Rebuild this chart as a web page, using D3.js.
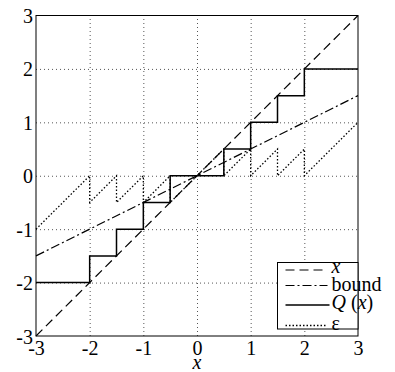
<!DOCTYPE html>
<html>
<head>
<meta charset="utf-8">
<script src="https://cdn.jsdelivr.net/npm/d3@7"></script>
<style>
  body { margin: 0; background: #fff; }
  svg { display: block; font-family: "Liberation Serif", "Times New Roman", serif; }
  .tick text { font-size: 20px; fill: #000; font-family: "Liberation Serif", "Times New Roman", serif; }
  .grid line { stroke: #555; stroke-dasharray: 1,3; }
  .grid .domain { display: none; }
</style>
</head>
<body>
<div id="chart"></div>
<script>
// tick values
const xTicks = [-3, -2, -1, 0, 1, 2, 3];
const yTicks = [-3, -2, -1, 0, 1, 2, 3];

// series: x (identity), bound, quantizer output Q(x), error eps
const lineX = [-3, 3];
const lineY = [-3, 3];
const boundX = [-3, 3];
const boundY = [-1.5, 1.5];
const qX = [-3, -2, -2, -1.5, -1.5, -1, -1, -0.5, -0.5, 0.5, 0.5, 1, 1, 1.5, 1.5, 2, 2, 3];
const qY = [-2, -2, -1.5, -1.5, -1, -1, -0.5, -0.5, 0, 0, 0.5, 0.5, 1, 1, 1.5, 1.5, 2, 2];
const epsX = [-3, -2, -2, -1.5, -1.5, -1, -1, -0.5, -0.5, 0.5, 0.5, 1, 1, 1.5, 1.5, 2, 2, 3];
const epsY = [-1, 0, -0.5, 0, -0.5, 0, -0.5, 0, -0.5, 0.5, 0, 0.5, 0, 0.5, 0, 0.5, 0, 1];

const legendLabels = ['x', 'bound', 'Q (x)', 'ε'];

const W = 395, H = 372;
const margin = { top: 15.5, right: 37, bottom: 36, left: 36 };
const width = W - margin.left - margin.right;
const height = H - margin.top - margin.bottom;

const svg = d3.select('#chart').append('svg')
  .attr('width', W)
  .attr('height', H);

const g = svg.append('g')
  .attr('transform', `translate(${margin.left}, ${margin.top})`);

const x = d3.scaleLinear().domain([-3, 3]).range([0, width]);
const y = d3.scaleLinear().domain([-3, 3]).range([height, 0]);

// dotted grid
g.append('g')
  .attr('class', 'grid')
  .attr('transform', `translate(0, ${height})`)
  .call(d3.axisBottom(x).tickValues(xTicks.slice(1, -1)).tickSize(-height).tickFormat(''));
g.append('g')
  .attr('class', 'grid')
  .call(d3.axisLeft(y).tickValues(yTicks.slice(1, -1)).tickSize(-width).tickFormat(''));

// tick labels
const fmt = d => d < 0 ? '-' + (-d) : d;
const xAxis = g.append('g')
  .attr('transform', `translate(0, ${height})`)
  .attr('font-family', null)
  .call(d3.axisBottom(x).tickValues(xTicks).tickSize(0).tickPadding(5).tickFormat(fmt));
xAxis.select('.domain').remove();
xAxis.selectAll('text').attr('dy', '0.71em');

const yAxis = g.append('g')
  .call(d3.axisLeft(y).tickValues(yTicks).tickSize(0).tickPadding(3).tickFormat(fmt));
yAxis.select('.domain').remove();
yAxis.selectAll('text').attr('dy', '0.35em');

// series
const series = [
  { xs: lineX, ys: lineY, dash: '9,5', w: 1.2 },
  { xs: boundX, ys: boundY, dash: '9,3,2,3', w: 1.2 },
  { xs: qX, ys: qY, dash: null, w: 1.5 },
  { xs: epsX, ys: epsY, dash: '1.5,2', w: 1.3 }
];

const line = d3.line().x(d => x(d[0])).y(d => y(d[1]));

series.forEach(s => {
  g.append('path')
    .datum(s.xs.map((v, i) => [v, s.ys[i]]))
    .attr('d', line)
    .attr('fill', 'none')
    .attr('stroke', '#000')
    .attr('stroke-width', s.w)
    .attr('stroke-dasharray', s.dash);
});

// axes box
g.append('rect')
  .attr('width', width)
  .attr('height', height)
  .attr('fill', 'none')
  .attr('stroke', '#000')
  .attr('stroke-width', 1);

// x label
g.append('text')
  .attr('x', x(0))
  .attr('y', height + 33)
  .attr('text-anchor', 'middle')
  .style('font-size', '20px')
  .style('font-style', 'italic')
  .text('x');

// legend
const leg = svg.append('g').attr('transform', 'translate(277.5, 262.5)');
leg.append('rect')
  .attr('width', 80.5)
  .attr('height', 66.5)
  .attr('fill', '#fff')
  .attr('stroke', '#000')
  .attr('stroke-width', 1);

const rowLine = [7.5, 23, 42.5, 63];
const rowText = [10.5, 28.5, 46.5, 67];
series.forEach((s, i) => {
  leg.append('line')
    .attr('x1', 8).attr('x2', i === 2 ? 52 : 50)
    .attr('y1', rowLine[i]).attr('y2', rowLine[i])
    .attr('stroke', '#000')
    .attr('stroke-width', s.w)
    .attr('stroke-dasharray', s.dash);
});

legendLabels.forEach((lbl, i) => {
  const t = leg.append('text')
    .attr('x', 54)
    .attr('y', rowText[i])
    .style('font-size', '20px');
  if (lbl === 'x') {
    t.style('font-style', 'italic').text(lbl);
  } else if (lbl === 'Q (x)') {
    t.append('tspan').style('font-style', 'italic').text('Q');
    t.append('tspan').text(' (');
    t.append('tspan').style('font-style', 'italic').text('x');
    t.append('tspan').text(')');
  } else {
    t.text(lbl);
  }
});
</script>
</body>
</html>
